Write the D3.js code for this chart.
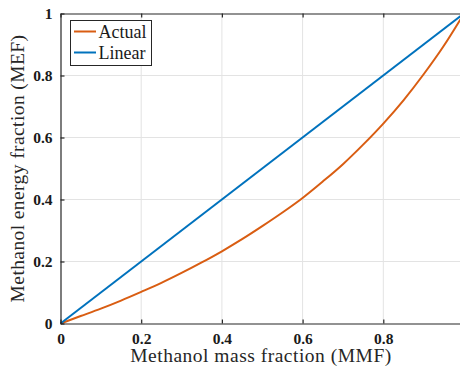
<!DOCTYPE html>
<html>
<head>
<meta charset="utf-8">
<script src="https://cdn.jsdelivr.net/npm/d3@7"></script>
<style>
  html, body { margin: 0; padding: 0; background: #fff; overflow: hidden; }
  svg { display: block; }
</style>
</head>
<body>
<svg id="chart" width="460" height="371"></svg>
<script>
// Methanol mass fraction (x) and the resulting energy fraction (y)
const mmf = [0, 0.05, 0.1, 0.15, 0.2, 0.25, 0.3, 0.35, 0.4, 0.45, 0.5,
             0.55, 0.6, 0.65, 0.7, 0.75, 0.8, 0.85, 0.9, 0.95, 1];
const mefActual = [0, 0.024, 0.048, 0.074, 0.102, 0.131, 0.163, 0.197, 0.233, 0.272, 0.314,
                   0.358, 0.405, 0.458, 0.514, 0.577, 0.645, 0.720, 0.804, 0.896, 1.0];
const mmfLinear = [0, 1];
const mefLinear = [0, 1];
const xTicks = [0, 0.2, 0.4, 0.6, 0.8];
const yTicks = [0, 0.2, 0.4, 0.6, 0.8, 1];
const seriesNames = ["Actual", "Linear"];
const seriesColors = ["#D95D12", "#0072BD"];

const svg = d3.select("#chart");
const plotLeft = 60.5, plotRight = 464, plotTop = 13.5, plotBottom = 323.5;

const x = d3.scaleLinear().domain([0, 1]).range([plotLeft, plotRight]);
const y = d3.scaleLinear().domain([0, 1]).range([plotBottom, plotTop]);

const serif = "'Liberation Serif', 'DejaVu Serif', serif";

// grid
const grid = svg.append("g");
grid.selectAll("line.gx").data(xTicks.slice(1)).enter().append("line")
  .attr("x1", d => x(d)).attr("x2", d => x(d))
  .attr("y1", plotTop).attr("y2", plotBottom)
  .attr("stroke", "#e3e3e3").attr("stroke-width", 1);
grid.selectAll("line.gy").data(yTicks.slice(1, -1)).enter().append("line")
  .attr("x1", plotLeft).attr("x2", plotRight)
  .attr("y1", d => y(d)).attr("y2", d => y(d))
  .attr("stroke", "#e3e3e3").attr("stroke-width", 1);

// series
const line = d3.line().curve(d3.curveMonotoneX).x(d => x(d[0])).y(d => y(d[1]));
const plot = svg.append("g");
plot.append("path")
  .datum(mmf.map((v, i) => [v, mefActual[i]]))
  .attr("d", line).attr("fill", "none")
  .attr("stroke", seriesColors[0]).attr("stroke-width", 2);
plot.append("path")
  .datum(mmfLinear.map((v, i) => [v, mefLinear[i]]))
  .attr("d", line).attr("fill", "none")
  .attr("stroke", seriesColors[1]).attr("stroke-width", 2);

// axes with inward ticks, mirrored on top and right
const axisColor = "#262626";
const xAxis = d3.axisBottom(x).tickValues(xTicks).tickSizeInner(-4).tickSizeOuter(0)
  .tickFormat(d3.format("~g")).tickPadding(9);
const yAxis = d3.axisLeft(y).tickValues(yTicks).tickSizeInner(-4).tickSizeOuter(0)
  .tickFormat(d3.format("~g")).tickPadding(8);

const gx = svg.append("g").attr("transform", `translate(0,${plotBottom})`).call(xAxis);
const gy = svg.append("g").attr("transform", `translate(${plotLeft},0)`).call(yAxis);
const gxTop = svg.append("g").attr("transform", `translate(0,${plotTop})`)
  .call(d3.axisTop(x).tickValues(xTicks).tickSizeInner(-4).tickSizeOuter(0).tickFormat(""));
const gyRight = svg.append("g").attr("transform", `translate(${plotRight},0)`)
  .call(d3.axisRight(y).tickValues(yTicks).tickSizeInner(-4).tickSizeOuter(0).tickFormat(""));

[gx, gy, gxTop, gyRight].forEach(g => {
  g.select(".domain").attr("stroke", axisColor).attr("stroke-width", 1.2);
  g.selectAll(".tick line").attr("stroke", axisColor).attr("stroke-width", 1.2);
  g.selectAll(".tick text")
    .attr("fill", "#1a1a1a")
    .style("font-family", serif)
    .style("font-size", "15.5px")
    .style("font-weight", "bold");
});

// axis titles
svg.append("text")
  .attr("x", 261).attr("y", 362)
  .attr("text-anchor", "middle")
  .style("font-family", serif).style("font-size", "19.5px")
  .style("letter-spacing", "0.5px").attr("fill", "#262626")
  .text("Methanol mass fraction (MMF)");
svg.append("text")
  .attr("transform", `translate(24,${(plotTop + plotBottom) / 2}) rotate(-90)`)
  .attr("text-anchor", "middle")
  .style("font-family", serif).style("font-size", "19.5px")
  .style("letter-spacing", "0.4px").attr("fill", "#262626")
  .text("Methanol energy fraction (MEF)");

// legend
const legend = svg.append("g");
legend.append("rect")
  .attr("x", 70.5).attr("y", 20.5).attr("width", 81).attr("height", 45)
  .attr("fill", "#fff").attr("stroke", axisColor).attr("stroke-width", 1);
seriesNames.forEach((name, i) => {
  const cy = 31.5 + i * 21;
  legend.append("line")
    .attr("x1", 74).attr("x2", 96).attr("y1", cy).attr("y2", cy)
    .attr("stroke", seriesColors[i]).attr("stroke-width", 2);
  legend.append("text")
    .attr("x", 98.5).attr("y", cy + 6)
    .style("font-family", serif).style("font-size", "18px").attr("fill", "#1a1a1a")
    .text(name);
});
</script>
</body>
</html>
